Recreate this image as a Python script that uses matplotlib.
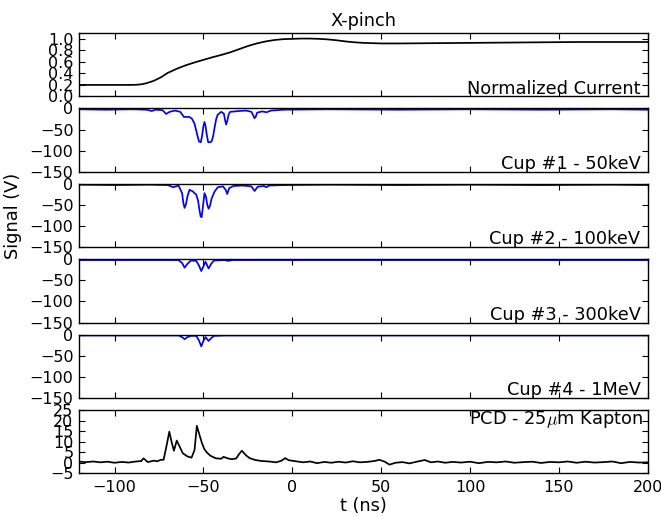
import matplotlib
matplotlib.use("Agg")
import matplotlib.pyplot as plt

# ---- data -------------------------------------------------------------
t_current = [-120, -100, -92, -88, -85, -82, -78, -74, -70, -65, -60, -55,
             -50, -45, -40, -35, -30, -25, -20, -15, -10, -5, 0, 5, 10, 15,
             20, 25, 30, 35, 40, 45, 50, 60, 80, 100, 120, 140, 160, 180, 200]
v_current = [0.20, 0.20, 0.20, 0.202, 0.21, 0.23, 0.27, 0.33, 0.41, 0.48,
             0.54, 0.59, 0.635, 0.68, 0.72, 0.765, 0.82, 0.875, 0.92, 0.955,
             0.98, 0.995, 1.0, 1.005, 1.005, 1.0, 0.99, 0.975, 0.955, 0.94,
             0.93, 0.925, 0.92, 0.92, 0.925, 0.93, 0.935, 0.94, 0.945, 0.945,
             0.945]

t_cup1 = [-120, -105, -90, -82, -79, -77, -73, -71, -69, -66, -63, -61, -58,
          -56.5, -55, -53.5, -52.5, -51.5, -50.8, -50, -49.4, -48.8, -48,
          -47.3, -46.3, -45.4, -44.5, -43.7, -42.8, -42, -40, -38.5, -37.8,
          -37.2, -36.5, -35.8, -35, -30, -26, -23, -22, -21.3, -20.6, -19.8,
          -17, -14.5, -12, -5, 20, 60, 100, 140, 180, 200]
v_cup1 = [-2, -3, -2, -3, -6, -3, -4, -13, -8, -5, -8, -20, -20, -24, -36,
          -62, -78, -80, -66, -42, -32, -42, -65, -80, -80, -78, -65, -45,
          -25, -15, -8, -12, -28, -38, -28, -14, -8, -6, -5, -8, -16, -23, -20,
          -10, -7, -9, -5, -3, -2, -3, -2, -3, -2, -3]

t_cup2 = [-120, -100, -80, -70, -67, -64, -62, -61.3, -60.6, -59.8, -59,
          -57.8, -56, -54, -53, -52.3, -51.6, -51, -50.3, -49.4, -48.6, -47.8,
          -47.1, -46.3, -45.4, -43.7, -41.9, -39, -37.5, -36.6, -35.5, -33,
          -28, -23, -21.2, -19.5, -16, -14.6, -13, -5, 20, 60, 100, 140, 180,
          200]
v_cup2 = [-2, -3, -2, -3, -8, -4, -22, -45, -57, -48, -30, -14, -18, -26,
          -40, -60, -77, -79, -55, -22, -30, -50, -59, -52, -35, -18, -8, -6,
          -14, -24, -10, -5, -4, -6, -17, -7, -5, -8, -4, -3, -2, -3, -2, -3,
          -2, -3]

t_cup3 = [-120, -90, -70, -64, -62, -60.6, -59, -57, -54, -52.5, -51.2, -50,
          -48.8, -47.1, -45.5, -44, -38, -36, -34, -20, 0, 50, 100, 150, 200]
v_cup3 = [-2, -2, -2, -2, -9, -20, -11, -3, -4, -15, -28, -17, -6, -22, -10,
          -3, -2, -4, -2, -2, -2, -2, -2, -2, -2]

t_cup4 = [-120, -90, -70, -64, -62, -60.6, -59, -57, -54, -52.5, -51.2, -50,
          -48.8, -47.1, -45.5, -44, -38, -20, 0, 50, 100, 150, 200]
v_cup4 = [-2, -2, -2, -2, -6, -11, -6, -3, -3, -14, -28, -15, -6, -15, -8,
          -3, -2, -2, -2, -2, -2, -2, -2]

t_pcd = [-120, -116, -112, -108, -104, -100, -96, -92, -88, -85, -83.7, -81.3,
         -78, -76, -74, -72.4, -70.5, -69.2, -67.8, -66.6, -65, -63, -61.6,
         -59, -56.7, -55, -53.7, -52.5, -50.9, -49.5, -48, -46, -43, -40,
         -38.7, -36, -34, -31.6, -30, -28.4, -26, -24, -20.8, -17, -13, -9,
         -6, -4, -2, 2, 6, 10, 14, 18, 22, 26, 30, 34, 38, 42, 46, 49, 52,
         54.7, 58, 62, 66, 70, 74.5, 78, 82, 86, 90, 95, 100, 105, 110, 115,
         120, 125, 130, 135, 140, 145, 150, 155, 160, 165, 170, 175, 180, 185,
         190, 195, 200]
v_pcd = [0.5, 0.3, 0.6, 0.2, 0.5, 0.0, 0.4, 0.1, 0.6, 0.8, 2.1, 0.3, 1.0, 0.7,
         1.4, 1.4, 9.0, 14.7, 9.5, 5.7, 10.5, 7.0, 4.5, 3.0, 2.4, 6.0, 17.5,
         14.0, 9.5, 6.5, 4.8, 3.3, 2.1, 1.9, 2.8, 2.0, 1.7, 2.0, 4.0, 5.7, 3.5,
         2.2, 1.3, 0.8, 0.6, 0.2, 1.0, 2.2, 1.2, 0.7, 0.2, 0.6, -0.2, 0.4, 0.0,
         0.5, 0.1, 0.7, 0.2, 0.4, 0.8, 1.4, 0.5, -0.9, 0.0, 0.3, -0.3, 0.5, 1.3,
         0.2, 0.6, 0.0, 0.4, 0.1, 0.5, -0.2, 0.4, 0.2, 0.6, 0.0, 0.3, 0.5, -0.1,
         0.4, 0.2, 0.6, 0.0, 0.5, 0.1, 0.3, 0.6, -0.2, 0.4, 0.1, 0.2]

cup_labels = ["Cup #1 - 50keV", "Cup #2 - 100keV", "Cup #3 - 300keV",
              "Cup #4 - 1MeV"]
x_ticks = [-100, -50, 0, 50, 100, 150, 200]

# ---- style ------------------------------------------------------------
plt.rcParams.update({
    "font.family": ["DejaVu Sans"],
    "font.size": 12.8,
    "xtick.labelsize": 11.5,
    "ytick.labelsize": 11.5,
    "xtick.direction": "in",
    "ytick.direction": "in",
    "xtick.top": True,
    "ytick.right": True,
    "xtick.major.size": 4,
    "ytick.major.size": 4,
    "xtick.major.pad": 5,
    "ytick.major.pad": 4,
    "axes.linewidth": 1.0,
    "lines.linewidth": 1.25,
    "mathtext.fontset": "cm",
})

fig, axes = plt.subplots(6, 1, sharex=True, figsize=(6.61, 5.17), dpi=100)
fig.subplots_adjust(left=0.1195, right=0.980, top=0.936, bottom=0.0845,
                    hspace=0.19)

# normalized current
ax = axes[0]
ax.plot(t_current, v_current, color="k")
ax.set_ylim(0, 1.1)
ax.set_yticks([0.0, 0.2, 0.4, 0.6, 0.8, 1.0])
ax.set_title("X-pinch", fontsize=12.8, pad=5)
ax.text(0.987, -0.02, "Normalized Current", transform=ax.transAxes,
        ha="right", va="bottom")

# Faraday cups
cups = [(t_cup1, v_cup1), (t_cup2, v_cup2), (t_cup3, v_cup3), (t_cup4, v_cup4)]
for ax, (tt, vv), lab in zip(axes[1:5], cups, cup_labels):
    ax.plot(tt, vv, color="b")
    ax.set_ylim(-150, 0)
    ax.set_yticks([0, -50, -100, -150])
    ax.text(0.987, -0.02, lab, transform=ax.transAxes, ha="right", va="bottom")

axes[2].set_ylabel("Signal (V)")
axes[2].yaxis.set_label_coords(-0.1005, 0.5)

# PCD
ax = axes[5]
ax.plot(t_pcd, v_pcd, color="k")
ax.set_ylim(-5, 25)
ax.set_yticks([-5, 0, 5, 10, 15, 20, 25])
ax.text(0.992, 1.01, r"PCD - 25$\mu$m Kapton", transform=ax.transAxes,
        ha="right", va="top")
ax.set_xlabel("t (ns)", labelpad=1)

for ax in axes:
    ax.set_xlim(-120, 200)
    ax.set_xticks(x_ticks)

fig.savefig("out.png", dpi=100, facecolor="white")
